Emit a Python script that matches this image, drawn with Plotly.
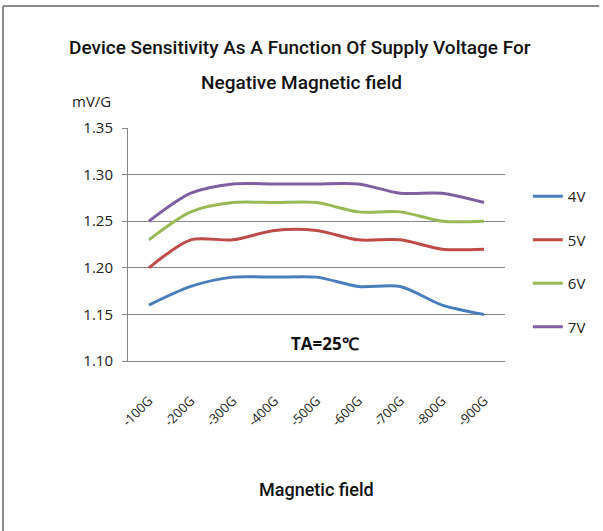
import plotly.graph_objects as go

categories = ["-100G", "-200G", "-300G", "-400G", "-500G", "-600G", "-700G", "-800G", "-900G"]
v4 = [1.16, 1.18, 1.19, 1.19, 1.19, 1.18, 1.18, 1.16, 1.15]
v5 = [1.20, 1.23, 1.23, 1.24, 1.24, 1.23, 1.23, 1.22, 1.22]
v6 = [1.23, 1.26, 1.27, 1.27, 1.27, 1.26, 1.26, 1.25, 1.25]
v7 = [1.25, 1.28, 1.29, 1.29, 1.29, 1.29, 1.28, 1.28, 1.27]
series_names = ["4V", "5V", "6V", "7V"]
series_values = [v4, v5, v6, v7]
colors = ["#4A7EBB", "#BE4B48", "#98B954", "#7D60A0"]

FONT = "Open Sans, sans-serif"
TFONT = "Roboto, Open Sans, sans-serif"

fig = go.Figure()
for i, (name, vals) in enumerate(zip(series_names, series_values)):
    fig.add_trace(go.Scatter(
        x=categories, y=vals, name=name, mode="lines",
        line=dict(color=colors[i], width=3, shape="spline", smoothing=0.8),
        legendgroup=f"g{i}",
    ))

L, R, T, B = 128, 95, 128, 170
W, H = 603, 531
pw, ph = W - L - R, H - T - B

def px(x):
    return (x - L) / pw

def py(y):
    return (H - B - y) / ph

def ann(text, x, y, size, weight="normal", family=FONT, color="#111"):
    return dict(text=text, x=px(x), y=py(y), xref="paper", yref="paper",
                xanchor="center", yanchor="middle", showarrow=False,
                font=dict(size=size, color=color, family=family, weight=weight))

fig.update_layout(
    width=W, height=H,
    margin=dict(l=L, r=R, t=T, b=B, pad=0),
    paper_bgcolor="white", plot_bgcolor="white",
    font=dict(family=FONT, size=14, color="#222"),
    showlegend=True,
    legend=dict(x=px(531), y=py(180), xanchor="left", yanchor="top",
                font=dict(size=15, color="#222"), tracegroupgap=21,
                bgcolor="rgba(0,0,0,0)"),
    xaxis=dict(type="category", range=[-0.5, 8.5], tickangle=-45,
               showgrid=False, showline=True, linecolor="#868686", linewidth=1,
               ticks="", ticklabelstandoff=26, tickfont=dict(size=13, color="#222")),
    yaxis=dict(range=[1.10, 1.35], dtick=0.05, tick0=1.10, tickformat=".2f",
               showgrid=True, gridcolor="#868686", gridwidth=1,
               showline=True, linecolor="#868686", linewidth=1,
               ticks="outside", ticklen=5, tickcolor="#868686", ticklabelstandoff=6,
               tickfont=dict(size=15, color="#222"), zeroline=False),
    annotations=[
        ann("Device Sensitivity As A Function Of Supply Voltage For", 301, 48, 19, 500, TFONT),
        ann("Negative Magnetic field", 303, 82, 19, 500, TFONT),
        ann("mV/G", 91, 101, 15, "normal", FONT, "#222"),
        ann("<b>TA=25℃</b>", 327, 343, 17, "normal", FONT),
        ann("Magnetic field", 318, 490, 18, 500, TFONT),
    ],
    shapes=[
        dict(type="line", xref="paper", yref="paper", x0=px(2), x1=px(603), y0=py(6), y1=py(6),
             line=dict(color="#8a8a8a", width=2)),
        dict(type="line", xref="paper", yref="paper", x0=px(2), x1=px(2), y0=py(6), y1=py(531),
             line=dict(color="#8a8a8a", width=2)),
    ],
)

fig.write_html("out.html", config={"displayModeBar": False},
               post_script="document.body.style.margin='0';")
